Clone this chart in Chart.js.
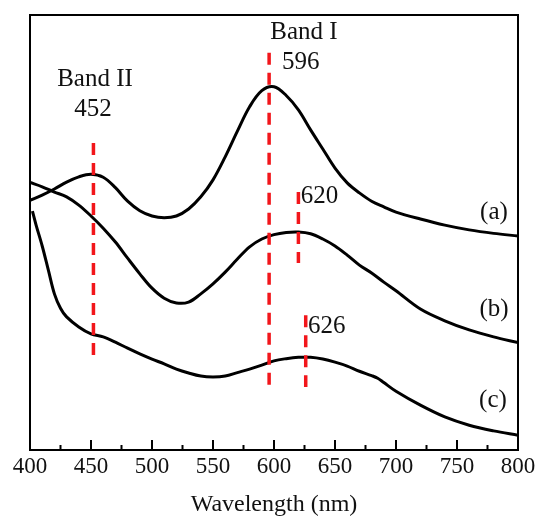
<!DOCTYPE html>
<html>
<head>
<meta charset="utf-8">
<script src="https://cdn.jsdelivr.net/npm/chart.js@4/dist/chart.umd.min.js"></script>
<style>
    html, body { margin: 0; padding: 0; background: #fff; }
    #wrap { width: 538px; height: 519px; }
</style>
</head>
<body>
<div id="wrap"><canvas id="specChart" width="538" height="519"></canvas></div>
<script>
// Absorption spectra (a.u.) vs wavelength (nm)
const waveA = [400, 410, 420, 430, 440, 450, 460, 470, 480, 490, 500, 510, 520, 530, 540, 550, 560, 570, 580, 590, 600, 610, 620, 630, 640, 650, 660, 670, 680, 690, 700, 720, 740, 760, 780, 800];
const absA = [0.574, 0.586, 0.600, 0.616, 0.628, 0.634, 0.627, 0.603, 0.572, 0.550, 0.538, 0.534, 0.538, 0.554, 0.582, 0.621, 0.674, 0.733, 0.789, 0.826, 0.835, 0.815, 0.782, 0.736, 0.692, 0.648, 0.614, 0.591, 0.572, 0.559, 0.547, 0.531, 0.517, 0.506, 0.498, 0.492];

const waveB = [400, 410, 420, 430, 440, 450, 460, 470, 480, 490, 500, 510, 520, 530, 540, 550, 560, 570, 580, 590, 600, 610, 620, 630, 640, 650, 660, 670, 680, 690, 700, 720, 740, 760, 780, 800];
const absB = [0.615, 0.605, 0.593, 0.582, 0.563, 0.538, 0.510, 0.478, 0.441, 0.405, 0.372, 0.349, 0.338, 0.340, 0.359, 0.382, 0.409, 0.439, 0.467, 0.485, 0.495, 0.500, 0.501, 0.497, 0.485, 0.469, 0.448, 0.425, 0.407, 0.386, 0.366, 0.324, 0.297, 0.276, 0.260, 0.247];

const waveC = [402, 405, 410, 415, 420, 425, 430, 440, 450, 460, 470, 480, 490, 500, 510, 520, 530, 540, 550, 560, 570, 580, 590, 600, 610, 620, 630, 640, 650, 660, 670, 680, 685, 690, 700, 720, 740, 760, 780, 800];
const absC = [0.549, 0.517, 0.469, 0.414, 0.359, 0.326, 0.306, 0.283, 0.267, 0.260, 0.248, 0.234, 0.221, 0.209, 0.198, 0.186, 0.177, 0.170, 0.168, 0.170, 0.178, 0.186, 0.195, 0.205, 0.210, 0.213, 0.213, 0.209, 0.202, 0.193, 0.181, 0.171, 0.165, 0.155, 0.135, 0.103, 0.076, 0.057, 0.044, 0.034];

// Band position markers: wavelength, top and bottom of the dashed line
const markerWave = [452, 596, 620, 626];
const markerTop = [0.706, 0.913, 0.593, 0.310];
const markerBottom = [0.207, 0.149, 0.430, 0.145];

// Text annotations [text, wavelength, absorbance, align]
const notes = [
    ['Band II', 453.3, 0.851, 'center'],
    ['452', 451.6, 0.782, 'center'],
    ['Band I', 624.6, 0.961, 'center'],
    ['596', 622, 0.892, 'center'],
    ['620', 622, 0.582, 'left'],
    ['626', 627.9, 0.283, 'left'],
    ['(a)', 780.3, 0.545, 'center'],
    ['(b)', 780.3, 0.322, 'center'],
    ['(c)', 779.5, 0.115, 'center']
];

const serif = '"Liberation Serif", "Times New Roman", serif';

const toPoints = (xs, ys) => xs.map((x, i) => ({ x: x, y: ys[i] }));

const curveStyle = {
    borderColor: '#000',
    borderWidth: 3,
    pointRadius: 0,
    fill: false,
    tension: 0.35,
    order: 2
};

const datasets = [
    { label: '(a)', data: toPoints(waveA, absA), ...curveStyle },
    { label: '(b)', data: toPoints(waveB, absB), ...curveStyle },
    { label: '(c)', data: toPoints(waveC, absC), ...curveStyle }
];

markerWave.forEach((w, i) => {
    datasets.push({
        label: 'marker ' + w,
        data: [{ x: w, y: markerTop[i] }, { x: w, y: markerBottom[i] }],
        borderColor: '#f2161b',
        borderWidth: 3.5,
        borderDash: [12, 8],
        pointRadius: 0,
        fill: false,
        order: 1
    });
});

// Frame, inward tick marks and text labels
const decorPlugin = {
    id: 'decor',
    afterDatasetsDraw(chart) {
        const ctx = chart.ctx;
        const area = chart.chartArea;
        const xs = chart.scales.x;
        const ys = chart.scales.y;
        ctx.save();

        ctx.strokeStyle = '#000';
        ctx.lineWidth = 2;
        ctx.strokeRect(area.left, area.top, area.right - area.left, area.bottom - area.top);

        for (let v = 400; v <= 800; v += 25) {
            const px = xs.getPixelForValue(v);
            const len = v % 50 === 0 ? 10 : 5;
            ctx.beginPath();
            ctx.moveTo(px, area.bottom);
            ctx.lineTo(px, area.bottom - len);
            ctx.stroke();
        }

        ctx.fillStyle = '#111';
        ctx.font = '25px ' + serif;
        ctx.textBaseline = 'middle';
        notes.forEach(n => {
            ctx.textAlign = n[3];
            ctx.fillText(n[0], xs.getPixelForValue(n[1]), ys.getPixelForValue(n[2]));
        });
        ctx.restore();
    }
};

new Chart(document.getElementById('specChart'), {
    type: 'line',
    data: { datasets: datasets },
    options: {
        responsive: false,
        animation: false,
        layout: { padding: { left: 30, right: 20, top: 15, bottom: 0 } },
        plugins: {
            legend: { display: false },
            tooltip: { enabled: false }
        },
        scales: {
            x: {
                type: 'linear',
                min: 400,
                max: 800,
                grid: { display: false, drawTicks: false },
                border: { display: false },
                ticks: {
                    stepSize: 50,
                    padding: 5,
                    color: '#111',
                    font: { family: serif, size: 23, lineHeight: 1 }
                },
                title: {
                    display: true,
                    text: 'Wavelength (nm)',
                    color: '#111',
                    padding: { top: 0, bottom: 5 },
                    font: { family: serif, size: 24, lineHeight: 0.8 }
                },
                afterFit(scale) {
                    // fixed axis band under the plot; side room comes from layout padding
                    scale.height = 69;
                    scale.paddingLeft = 0;
                    scale.paddingRight = 0;
                }
            },
            y: {
                display: false,
                min: 0,
                max: 1
            }
        }
    },
    plugins: [decorPlugin]
});
</script>
</body>
</html>
